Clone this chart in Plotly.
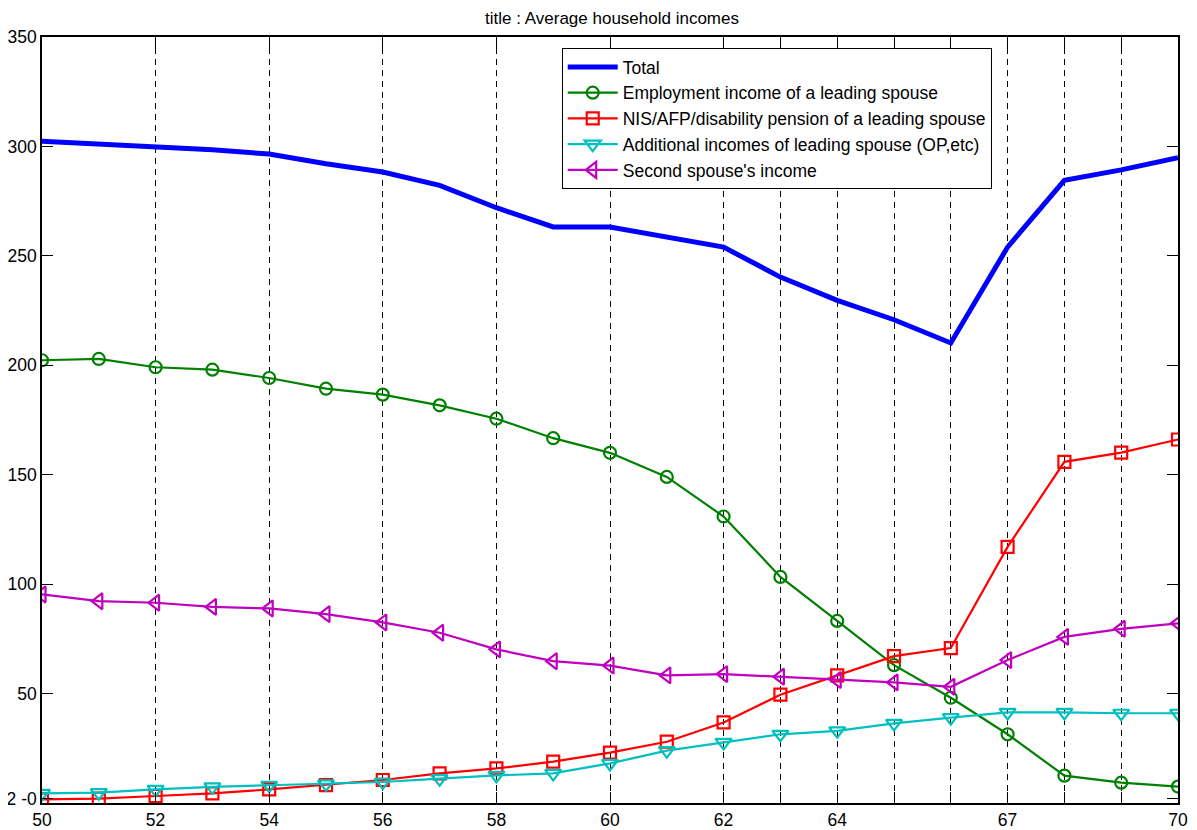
import plotly.graph_objects as go

ages = list(range(50, 71))

total = [302.4, 301.2, 299.7, 298.5, 296.5, 292.1, 288.3, 282.2, 272.0, 263.2, 263.2,
         258.6, 254.0, 240.3, 229.7, 220.8, 210.2, 254.0, 284.5, 289.3, 294.8]
employment = [202.3, 202.9, 199.1, 198.0, 194.2, 189.3, 186.6, 181.7, 175.6, 166.7, 160.0,
              149.0, 130.9, 103.3, 83.2, 63.0, 48.1, 31.4, 12.5, 9.3, 7.5]
pension = [1.7, 2.0, 3.2, 4.4, 6.2, 8.2, 10.5, 13.5, 15.8, 18.9, 23.0,
           28.0, 36.8, 49.5, 58.3, 67.1, 70.8, 117.0, 155.9, 160.1, 166.1]
additional = [4.4, 4.7, 6.2, 7.4, 8.1, 8.7, 9.6, 11.1, 12.6, 13.5, 18.1,
              23.9, 27.7, 31.4, 33.0, 36.4, 39.0, 41.4, 41.4, 41.0, 41.0]
second = [95.3, 92.2, 91.5, 89.6, 88.9, 86.3, 82.5, 77.8, 70.2, 64.8, 62.8,
          58.3, 58.9, 57.7, 56.2, 55.1, 53.1, 65.3, 75.9, 79.6, 82.1]

x_tickvals = [50, 52, 54, 56, 58, 60, 62, 63, 64, 65, 66, 67, 68, 69, 70]
x_ticktext = ["50", "52", "54", "56", "58", "60", "62", "", "64", "", "", "67", "", "", "70"]
y_tickvals = [2, 50, 100, 150, 200, 250, 300, 350]
y_ticktext = ["2 -0", "50", "100", "150", "200", "250", "300", "350"]

names = ["Total",
         "Employment income of a leading spouse",
         "NIS/AFP/disability pension of a leading spouse",
         "Additional incomes of leading spouse (OP,etc)",
         "Second spouse's income"]

FONT = "Liberation Sans, Arial, Helvetica, sans-serif"

fig = go.Figure()
fig.add_trace(go.Scatter(x=ages, y=total, name=names[0], mode="lines",
                         line=dict(color="#0000FF", width=5)))
fig.add_trace(go.Scatter(x=ages, y=employment, name=names[1], mode="lines+markers",
                         line=dict(color="#008000", width=2.2),
                         marker=dict(symbol="circle-open", size=12, color="#008000",
                                     line=dict(width=2.2, color="#008000"))))
fig.add_trace(go.Scatter(x=ages, y=pension, name=names[2], mode="lines+markers",
                         line=dict(color="#FF0000", width=2.2),
                         marker=dict(symbol="square-open", size=12, color="#FF0000",
                                     line=dict(width=2.2, color="#FF0000"))))
fig.add_trace(go.Scatter(x=ages, y=additional, name=names[3], mode="lines+markers",
                         line=dict(color="#00BFBF", width=2.2),
                         marker=dict(symbol="triangle-down-open", size=14, color="#00BFBF",
                                     line=dict(width=2.2, color="#00BFBF"))))
fig.add_trace(go.Scatter(x=ages, y=second, name=names[4], mode="lines+markers",
                         line=dict(color="#BF00BF", width=2.2),
                         marker=dict(symbol="triangle-left-open", size=14, color="#BF00BF",
                                     line=dict(width=2.2, color="#BF00BF"))))

fig.update_layout(
    width=1189, height=822,
    margin=dict(l=34, r=19, t=29, b=27, autoexpand=False),
    paper_bgcolor="white", plot_bgcolor="white",
    font=dict(family=FONT, size=17.5, color="black"),
    title=dict(text="title : Average household incomes", x=0.508, xanchor="center",
               y=0.9878, yanchor="middle", font=dict(family=FONT, size=17, color="black")),
    showlegend=True,
    legend=dict(x=0.4575, y=0.9856, xanchor="left", yanchor="top",
                bgcolor="white", bordercolor="black", borderwidth=1,
                font=dict(family=FONT, size=17.5, color="black"),
                tracegroupgap=0, itemwidth=50),
)
fig.update_xaxes(range=[50, 70], tickmode="array", tickvals=x_tickvals, ticktext=x_ticktext,
                 showgrid=True, gridcolor="black", gridwidth=1, griddash="6px,5px",
                 ticks="inside", ticklen=11, tickcolor="black", tickwidth=1,
                 showline=True, linecolor="black", linewidth=1.5, mirror="ticks",
                 zeroline=False, automargin=False,
                 tickfont=dict(family=FONT, size=17.5, color="black"))
fig.update_yaxes(range=[0, 350], tickmode="array", tickvals=y_tickvals, ticktext=y_ticktext,
                 showgrid=False, ticks="inside", ticklen=11, tickcolor="black", tickwidth=1,
                 showline=True, linecolor="black", linewidth=1.5, mirror="ticks",
                 zeroline=False, automargin=False,
                 tickfont=dict(family=FONT, size=17.5, color="black"))

fig.write_html("out.html")
